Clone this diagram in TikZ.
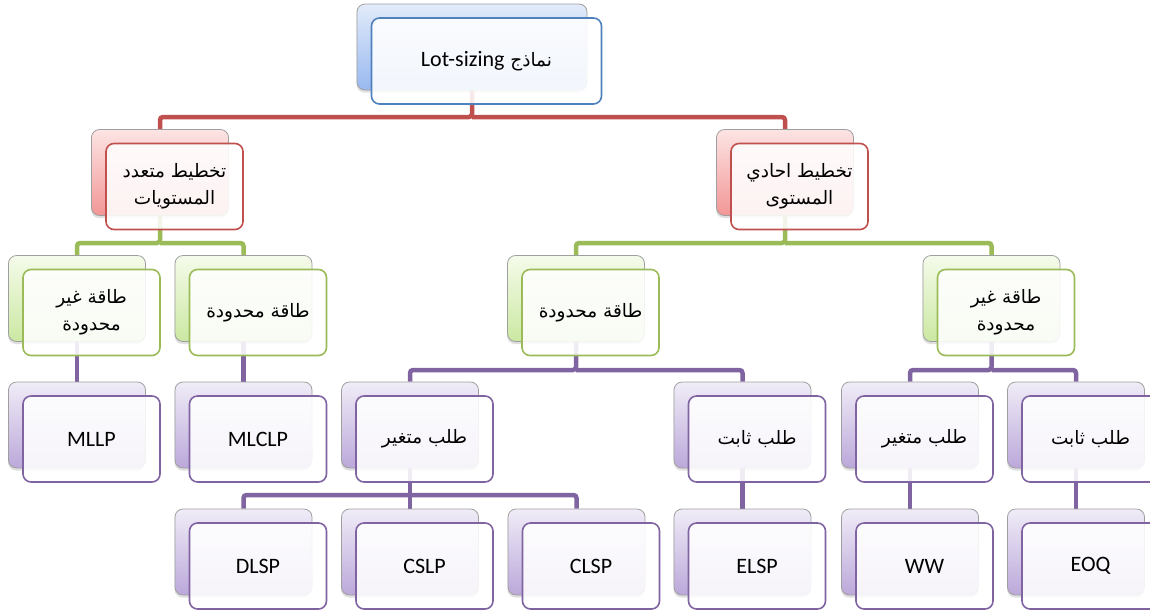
\documentclass[tikz,border=0pt]{standalone}
\usepackage{fontspec}
\setmainfont{Carlito}
\newfontfamily\arabicfont[Script=Arabic]{DejaVu Sans}
\TeXXeTstate=1
\usetikzlibrary{shadows}
\pgfdeclarelayer{bg}
\pgfsetlayers{bg,main}

\definecolor{blueline}{HTML}{4F81BD}
\definecolor{redline}{HTML}{C0504D}
\definecolor{greenline}{HTML}{9BBB59}
\definecolor{purpleline}{HTML}{8064A2}
\definecolor{bluetop}{HTML}{E2EBFA}
\definecolor{bluebot}{HTML}{98B9F0}
\definecolor{redtop}{HTML}{FDE4E4}
\definecolor{redbot}{HTML}{F29696}
\definecolor{greentop}{HTML}{F5FBEA}
\definecolor{greenbot}{HTML}{CBE8A2}
\definecolor{purpletop}{HTML}{F0ECF7}
\definecolor{purplebot}{HTML}{BBA8DA}

% Arabic run, right to left
\newcommand\ar[1]{{\arabicfont\fontsize{18.5}{27}\selectfont\beginR#1\endR}}

\tikzset{
  backbox/.style={rectangle, rounded corners=8pt, minimum width=137pt, minimum height=86pt,
    draw=gray!75, line width=0.8pt,
    drop shadow={opacity=0.25, shadow xshift=-0.5pt, shadow yshift=-2.5pt}},
  frontbox/.style={rectangle, rounded corners=8pt, minimum width=137pt, minimum height=86pt,
    fill=white, fill opacity=0.88, text opacity=1, line width=1.6pt, align=center,
    font=\fontsize{22}{27}\selectfont},
  wide/.style={minimum width=230pt},
  backblue/.style={top color=bluetop, bottom color=bluebot},
  frontblue/.style={draw=blueline},
  backred/.style={top color=redtop, bottom color=redbot},
  frontred/.style={draw=redline},
  backgreen/.style={top color=greentop, bottom color=greenbot},
  frontgreen/.style={draw=greenline},
  backpurple/.style={top color=purpletop, bottom color=purplebot},
  frontpurple/.style={draw=purpleline},
  conn/.style={line width=4.5pt, rounded corners=3pt},
}

% #1 name, #2 x, #3 y, #4 colour set, #5 extra options, #6 text
\newcommand\tierbox[6]{%
  \node[backbox, back#4, #5] (#1) at (#2,#3) {};
  \node[frontbox, front#4, #5] (#1-f) at ([xshift=14.5pt, yshift=-14pt]#1.center) {#6};
}

\begin{document}
\begin{tikzpicture}[x=1pt, y=-1pt]
\useasboundingbox (0,0) rectangle (1150,611);

% root
\tierbox{top}{472}{47}{blue}{wide}{{\arabicfont\fontsize{18.5}{27}\selectfont\beginR نماذج \beginL{\rmfamily\fontsize{22}{27}\selectfont Lot-sizing}\endL\endR}}

% planning level
\tierbox{l2a}{160}{172.5}{red}{}{\ar{تخطيط متعدد}\\\ar{المستويات}}
\tierbox{l2b}{785}{172.5}{red}{}{\ar{تخطيط احادي}\\\ar{المستوى}}

% capacity
\tierbox{l3a}{77}{298.5}{green}{}{\ar{طاقة غير}\\\ar{محدودة}}
\tierbox{l3b}{243.5}{298.5}{green}{}{\ar{طاقة محدودة}}
\tierbox{l3c}{576}{298.5}{green}{}{\ar{طاقة محدودة}}
\tierbox{l3d}{991.5}{298.5}{green}{}{\ar{طاقة غير}\\\ar{محدودة}}

% demand / multi-level models
\tierbox{l4a}{77}{425}{purple}{}{MLLP}
\tierbox{l4b}{243.5}{425}{purple}{}{MLCLP}
\tierbox{l4c}{410}{425}{purple}{}{\ar{طلب متغير}}
\tierbox{l4d}{742.5}{425}{purple}{}{\ar{طلب ثابت}}
\tierbox{l4e}{910}{425}{purple}{}{\ar{طلب متغير}}
\tierbox{l4f}{1076}{425}{purple}{}{\ar{طلب ثابت}}

% single-level models
\tierbox{l5a}{243.5}{552}{purple}{}{DLSP}
\tierbox{l5b}{410}{552}{purple}{}{CSLP}
\tierbox{l5c}{576.5}{552}{purple}{}{CLSP}
\tierbox{l5d}{742.5}{552}{purple}{}{ELSP}
\tierbox{l5e}{910}{552}{purple}{}{WW}
\tierbox{l5f}{1076}{552}{purple}{}{EOQ}

% connector buses
\coordinate (busA) at (0,117);
\coordinate (busB) at (0,243);
\coordinate (busC) at (0,370);
\coordinate (busD) at (0,495);

\begin{pgfonlayer}{bg}
  \draw[conn, redline] (top.south) -- (top.south |- busA) -| (l2a.north);
  \draw[conn, redline] (top.south |- busA) -| (l2b.north);

  \draw[conn, greenline] (l2a.south) -- (l2a.south |- busB) -| (l3a.north);
  \draw[conn, greenline] (l2a.south |- busB) -| (l3b.north);
  \draw[conn, greenline] (l2b.south) -- (l2b.south |- busB) -| (l3c.north);
  \draw[conn, greenline] (l2b.south |- busB) -| (l3d.north);

  \draw[conn, purpleline] (l3a.south) -- (l4a.north);
  \draw[conn, purpleline] (l3b.south) -- (l4b.north);
  \draw[conn, purpleline] (l3c.south) -- (l3c.south |- busC) -| (l4c.north);
  \draw[conn, purpleline] (l3c.south |- busC) -| (l4d.north);
  \draw[conn, purpleline] (l3d.south) -- (l3d.south |- busC) -| (l4e.north);
  \draw[conn, purpleline] (l3d.south |- busC) -| (l4f.north);

  \draw[conn, purpleline] (l4c.south) -- (l5b.north);
  \draw[conn, purpleline] (l4c.south |- busD) -| (l5a.north);
  \draw[conn, purpleline] (l4c.south |- busD) -| (l5c.north);
  \draw[conn, purpleline] (l4d.south) -- (l5d.north);
  \draw[conn, purpleline] (l4e.south) -- (l5e.north);
  \draw[conn, purpleline] (l4f.south) -- (l5f.north);
\end{pgfonlayer}
\end{tikzpicture}
\end{document}
